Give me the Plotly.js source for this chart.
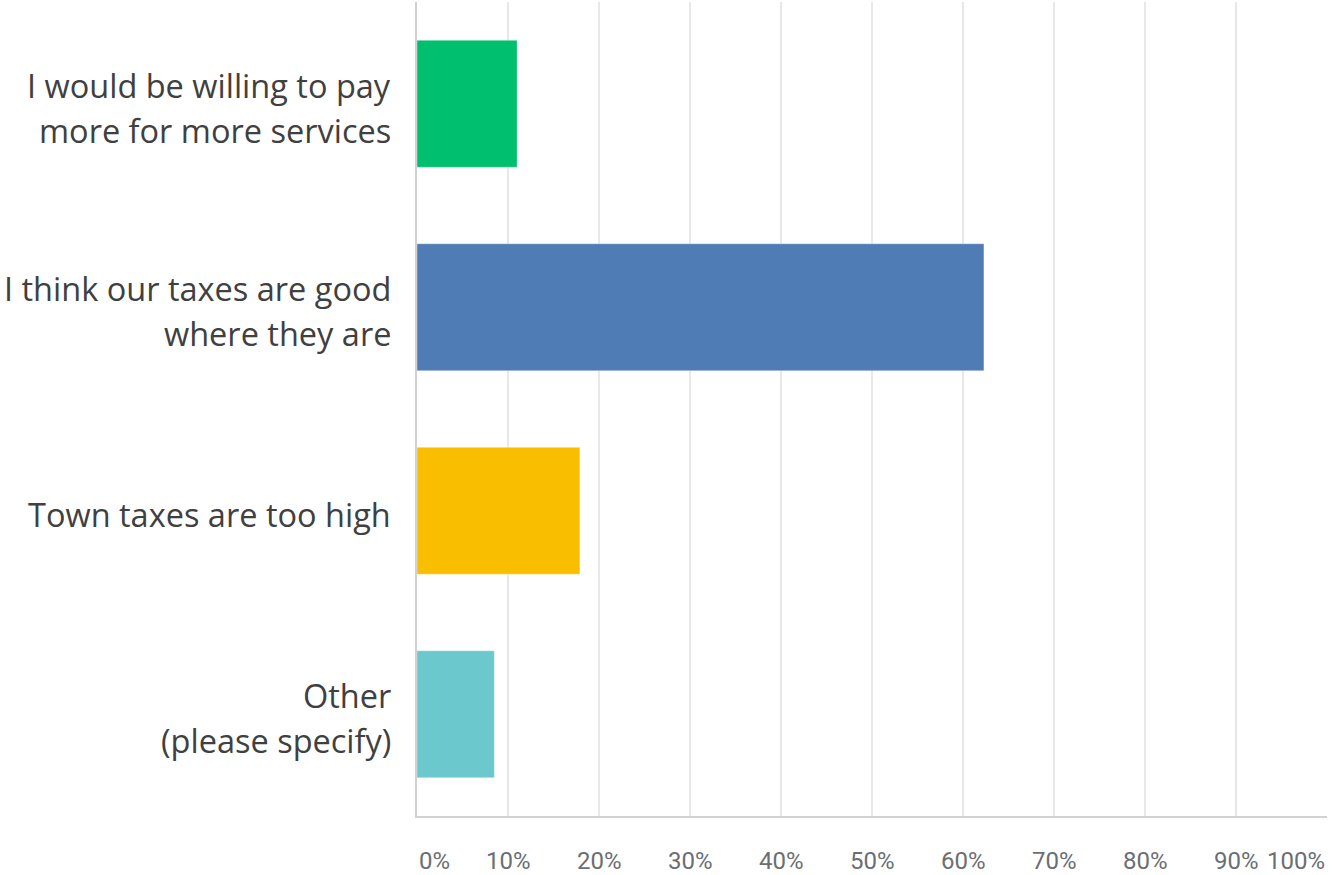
<!DOCTYPE html>
<html>
<head>
<meta charset="utf-8">
<script src="https://cdn.plot.ly/plotly-3.0.1.min.js"></script>
<style>html,body{margin:0;padding:0;background:#fff;}#chart{width:1332px;height:875px;}</style>
</head>
<body>
<div id="chart"></div>
<script>
const categories = [
  "I would be willing to pay<br>more for more services",
  "I think our taxes are good<br>where they are",
  "Town taxes are too high",
  "Other<br>(please specify)"
];
const values = [11.0, 62.3, 17.9, 8.5];
const barColors = ["#00BF6F", "#507CB6", "#F9BE00", "#6BC8CD"];
const tickValues = [0, 10, 20, 30, 40, 50, 60, 70, 80, 90, 100];
const tickLabels = ["0%", "10%", "20%", "30%", "40%", "50%", "60%", "70%", "80%", "90%", "100%"];

const annotations = [];
// category labels, one annotation per line for wider line spacing
categories.forEach((c, i) => {
  const lines = c.split("<br>");
  const n = lines.length;
  lines.forEach((ln, j) => {
    annotations.push({
      xref: "paper", yref: "y", x: 0, y: i,
      xanchor: "right", yanchor: "middle",
      xshift: -25, yshift: ((n - 1) / 2 - j) * 45 - 4,
      text: ln, showarrow: false, borderpad: 0,
      font: {family: "'Open Sans', 'Noto Sans', sans-serif", size: 32.5, color: "#404040"}
    });
  });
});
// x tick labels (end labels kept inside the frame)
tickValues.forEach((v, i) => {
  const first = i === 0, last = i === tickValues.length - 1;
  annotations.push({
    xref: "x", yref: "paper", x: v, y: 0,
    xanchor: first ? "left" : (last ? "right" : "center"), yanchor: "middle",
    xshift: first ? 1 : (last ? -1 : 0),
    yshift: -45, borderpad: 0,
    text: tickLabels[i], showarrow: false,
    font: {family: "Roboto, sans-serif", size: 24, color: "#6b6e72"}
  });
});

const trace = {
  type: "bar", orientation: "h",
  y: categories.map((c, i) => i),
  x: values,
  marker: {color: barColors, line: {color: "rgba(255,255,255,0.35)", width: 1}},
  hoverinfo: "x"
};

const layout = {
  width: 1332, height: 875,
  margin: {l: 417, r: 5, t: 2, b: 59},
  paper_bgcolor: "#fff", plot_bgcolor: "#fff",
  bargap: 0.376,
  showlegend: false,
  xaxis: {
    range: [0, 100], tickvals: tickValues, showticklabels: false,
    showgrid: true, gridcolor: "#e8e8e8", gridwidth: 1.5,
    zeroline: false, showline: true, linecolor: "#d2d2d2", linewidth: 2,
    ticks: "", fixedrange: true
  },
  yaxis: {
    range: [3.5, -0.5], showticklabels: false, showgrid: false,
    zeroline: false, showline: true, linecolor: "#d2d2d2", linewidth: 2,
    ticks: "", fixedrange: true
  },
  annotations: annotations
};

Plotly.newPlot("chart", [trace], layout, {displayModeBar: false, staticPlot: true});
</script>
</body>
</html>
